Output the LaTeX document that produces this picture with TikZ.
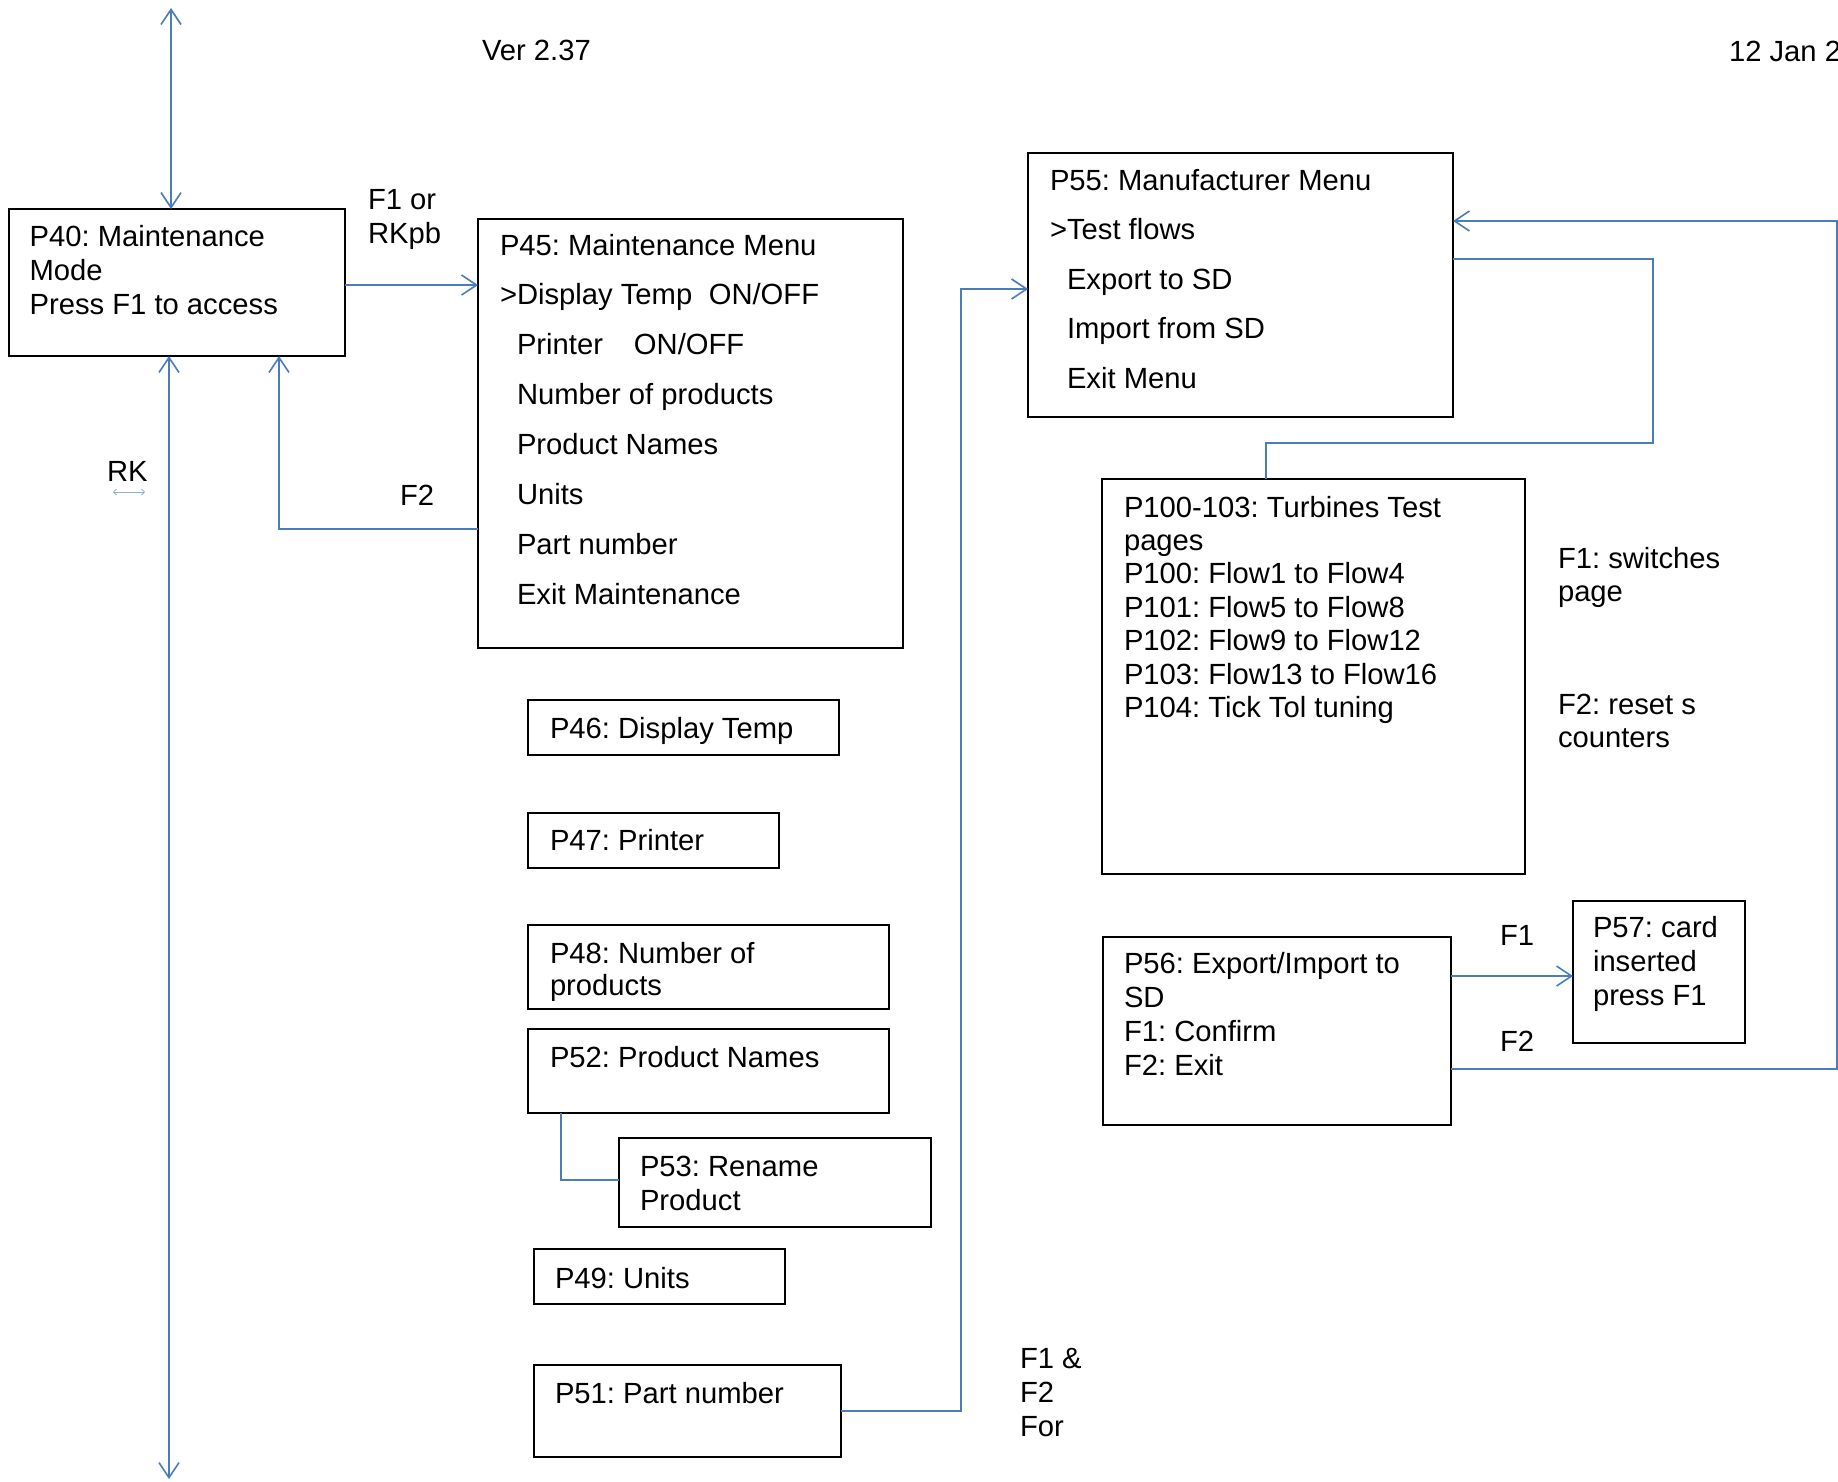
\documentclass[tikz,border=0pt]{standalone}
\usepackage{fontspec}
\setmainfont{Liberation Sans}
\usetikzlibrary{arrows.meta,calc}
\definecolor{lnblue}{RGB}{74,126,187}
\definecolor{ltblue}{RGB}{141,176,220}
\newcommand\hstr{\rule{0pt}{22pt}}
\begin{document}
\frenchspacing
\begin{tikzpicture}[x=1pt,y=-1pt,
  box/.style={draw=black,line width=2pt,anchor=north west,inner sep=0pt,outer sep=0pt},
  txt/.style={anchor=north west,inner sep=0pt,outer sep=0pt,align=left},
  fa/.style={font=\fontsize{29.2}{34}\selectfont\frenchspacing},
  fb/.style={font=\fontsize{29.2}{49.9}\selectfont\frenchspacing},
  fc/.style={font=\fontsize{29.2}{49.5}\selectfont\frenchspacing},
  fd/.style={font=\fontsize{29.2}{33.4}\selectfont\frenchspacing},
  fe/.style={font=\fontsize{29.2}{32}\selectfont\frenchspacing},
  conn/.style={draw=lnblue,line width=1.6pt},
  arr/.style={conn,-{Straight Barb[length=15pt,width=20pt]}},
  dbl/.style={conn,{Straight Barb[length=15pt,width=20pt]}-{Straight Barb[length=15pt,width=20pt]}},
  thinarr/.style={draw=ltblue,line width=0.8pt,{Straight Barb[length=3pt,width=6pt]}-{Straight Barb[length=3pt,width=6pt]}},
]
\useasboundingbox (0,0) rectangle (1838,1481);
\fill[white] (0,0) rectangle (1838,1481);

% boxes
\node[box,minimum width=336pt,minimum height=147pt] (p40) at (8.7,209) {};
\node[box,minimum width=425pt,minimum height=429pt] (p45) at (478,219) {};
\node[box,minimum width=311pt,minimum height=55pt] (p46) at (528,700) {};
\node[box,minimum width=251pt,minimum height=55pt] (p47) at (528,813) {};
\node[box,minimum width=361pt,minimum height=84pt] (p48) at (528,925) {};
\node[box,minimum width=361pt,minimum height=84pt] (p52) at (528,1029) {};
\node[box,minimum width=312pt,minimum height=89pt] (p53) at (619,1138) {};
\node[box,minimum width=251pt,minimum height=55pt] (p49) at (534,1249) {};
\node[box,minimum width=307pt,minimum height=92pt] (p51) at (534,1365) {};
\node[box,minimum width=425pt,minimum height=264pt] (p55) at (1028,153) {};
\node[box,minimum width=423pt,minimum height=395pt] (p100) at (1102,479) {};
\node[box,minimum width=348pt,minimum height=188pt] (p56) at (1103,937) {};
\node[box,minimum width=172pt,minimum height=142pt] (p57) at (1573,901) {};

% texts
\node[txt,fa] (tver) at (482,38) {\hstr Ver 2.37};
\node[txt,fa] (tdate) at (1729,39) {\hstr 12 Jan 2};
\node[txt,fa] (t40) at (29.6,224) {\hstr P40: Maintenance\\Mode\\Press F1 to access};
\node[txt,fa] (tf1or) at (368,187) {\hstr F1 or\\RKpb};
\node[txt,fb] (t45) at (500,233) {\hstr P45: Maintenance Menu\\
  >Display Temp\hspace*{16.5pt}ON/OFF\\
  \hspace*{17pt}Printer\hspace*{31pt}ON/OFF\\
  \hspace*{17pt}Number of products\\
  \hspace*{17pt}Product Names\\
  \hspace*{17pt}Units\\
  \hspace*{17pt}Part number\\
  \hspace*{17pt}Exit Maintenance};
\node[txt,fa] (tf2a) at (400,483) {\hstr F2};
\node[txt,fa] (trk) at (107,459) {\hstr RK};
\node[txt,fa] (t46) at (550,716) {\hstr P46: Display Temp};
\node[txt,fa] (t47) at (550,828) {\hstr P47: Printer};
\node[txt,fe] (t48) at (550,941) {\hstr P48: Number of\\products};
\node[txt,fa] (t52) at (550,1045) {\hstr P52: Product Names};
\node[txt,fa] (t53) at (640,1154) {\hstr P53: Rename\\Product};
\node[txt,fa] (t49) at (555,1266) {\hstr P49: Units};
\node[txt,fa] (t51) at (555,1381) {\hstr P51: Part number};
\node[txt,fa] (tamp) at (1020,1346) {\hstr F1 \&\\F2\\For};
\node[txt,fc] (t55) at (1050,168) {\hstr P55: Manufacturer Menu\\
  >Test flows\\
  \hspace*{17pt}Export to SD\\
  \hspace*{17pt}Import from SD\\
  \hspace*{17pt}Exit Menu};
\node[txt,fd] (t100) at (1124,495) {\hstr P100-103: Turbines Test\\pages\\P100: Flow1 to Flow4\\P101: Flow5 to Flow8\\P102: Flow9 to Flow12\\P103: Flow13 to Flow16\\P104: Tick Tol tuning};
\node[txt,fd] (tsw) at (1558,546) {\hstr F1: switches\\page};
\node[txt,fd] (trs) at (1558,692) {\hstr F2: reset s\\counters};
\node[txt,fa] (t56) at (1124,951) {\hstr P56: Export/Import to\\SD\\F1: Confirm\\F2: Exit};
\node[txt,fa] (t57) at (1593,915) {\hstr P57: card\\inserted\\press F1};
\node[txt,fa] (tf1b) at (1500,923) {\hstr F1};
\node[txt,fa] (tf2b) at (1500,1029) {\hstr F2};

% helper coordinates
\coordinate (topend) at (171,8);
\coordinate (botend) at (169,1479);
\coordinate (rka) at (113,492);
\coordinate (rkb) at (145,492);
\coordinate (f2turn) at (279,529);
\coordinate (pnturn) at (961,289);
\coordinate (rc) at (1837,221);
\coordinate (rb) at (1837,1069);
\coordinate (mtop) at (1653,259);
\coordinate (mbot) at (1266,443);
\coordinate (rnturn) at (561,1180);
\coordinate (f1y) at (0,976);
\coordinate (f1x) at (0,285);

% connectors
\draw[dbl] (topend) -- (topend |- p40.north);
\draw[dbl] (botend |- p40.south) -- (botend);
\draw[thinarr] (rka) -- (rkb);
\draw[arr] (f1x -| p40.east) -- (f1x -| p45.west);
\draw[arr] (f2turn -| p45.west) -- (f2turn) -- (f2turn |- p40.south);
\draw[arr] (p51.east) -| (pnturn) -- (pnturn -| p55.west);
\draw[arr] (rb -| p56.east) -- (rb) -- (rc) -- (rc -| p55.east);
\draw[arr] (f1y -| p56.east) -- (f1y -| p57.west);
\draw[conn] (mtop -| p55.east) -- (mtop) |- (mbot) -- (mbot |- p100.north);
\draw[conn] (rnturn |- p52.south) -- (rnturn) -- (rnturn -| p53.west);
\end{tikzpicture}
\end{document}
